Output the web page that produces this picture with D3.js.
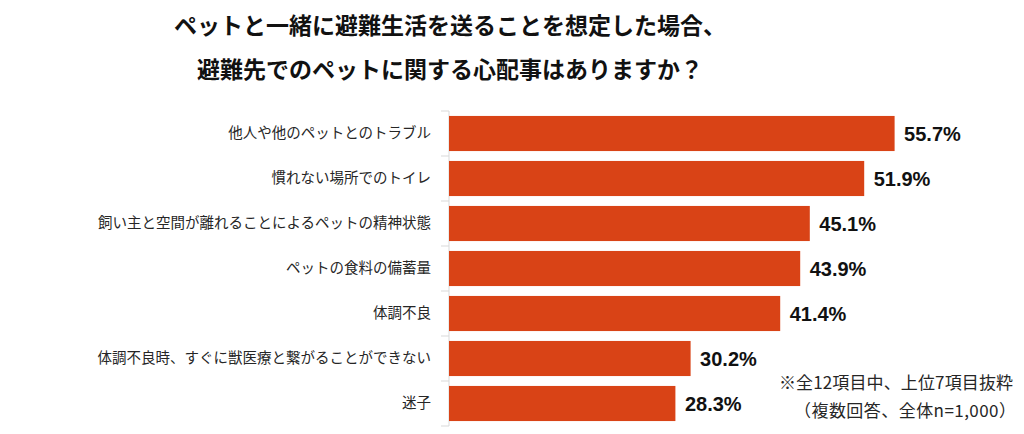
<!DOCTYPE html>
<html>
<head>
<meta charset="utf-8">
<script src="https://cdn.jsdelivr.net/npm/d3@7"></script>
<style>
  html, body { margin: 0; padding: 0; background: #fff; }
  svg { display: block; }
</style>
</head>
<body>
<svg id="chart" width="1024" height="434"></svg>
<script>
const titleLines = ["ペットと一緒に避難生活を送ることを想定した場合、", "避難先でのペットに関する心配事はありますか？"];
const categories = [
  "他人や他のペットとのトラブル",
  "慣れない場所でのトイレ",
  "飼い主と空間が離れることによるペットの精神状態",
  "ペットの食料の備蓄量",
  "体調不良",
  "体調不良時、すぐに獣医療と繋がることができない",
  "迷子"
];
const values = [55.7, 51.9, 45.1, 43.9, 41.4, 30.2, 28.3];
const noteLines = ["※全12項目中、上位7項目抜粋", "（複数回答、全体n=1,000）"];

const svg = d3.select("#chart");
const jp = "'Noto Sans CJK JP', 'Noto Sans', sans-serif";
const barColor = "#D94316";

const x = d3.scaleLinear().domain([0, 70]).range([449, 1009]);
const y = d3.scaleBand().domain(categories).range([111, 426]).paddingInner(0.22).paddingOuter(0.11);

// Title
svg.append("g").selectAll("text").data(titleLines).join("text")
  .attr("x", 450)
  .attr("y", (d, i) => i === 0 ? 24 : 67.5)
  .attr("text-anchor", "middle")
  .attr("dominant-baseline", "central")
  .style("font-family", jp)
  .style("font-weight", 700)
  .style("font-size", "23px")
  .attr("fill", "#111")
  .text(d => d);

// Axis line and boundary ticks
const step = y.step();
const bounds = categories.map(c => y(c) - y.paddingInner() * step / 2);
const axisG = svg.append("g");
axisG.append("line")
  .attr("x1", x(0)).attr("x2", x(0))
  .attr("y1", y.range()[0]).attr("y2", y.range()[1])
  .attr("stroke", "#d9d9d9").attr("stroke-width", 1);
axisG.selectAll("line.tick").data([y.range()[0], ...bounds.slice(1), y.range()[1]]).join("line")
  .attr("class", "tick")
  .attr("x1", x(0) - 8).attr("x2", x(0))
  .attr("y1", d => d).attr("y2", d => d)
  .attr("stroke", "#d9d9d9").attr("stroke-width", 1);

// Bars
svg.append("g").selectAll("rect").data(values).join("rect")
  .attr("x", x(0))
  .attr("y", (d, i) => y(categories[i]))
  .attr("width", d => x(d) - x(0))
  .attr("height", y.bandwidth())
  .attr("fill", barColor);

// Category labels via axis
const yAxis = svg.append("g")
  .attr("transform", `translate(${x(0)},0)`)
  .call(d3.axisLeft(y).tickSize(0).tickPadding(18));
yAxis.select(".domain").remove();
yAxis.selectAll("text")
  .style("font-family", jp)
  .style("font-size", "14.5px")
  .attr("fill", "#262626");

// Value labels
svg.append("g").selectAll("text").data(values).join("text")
  .attr("x", d => x(d) + 9.5)
  .attr("y", (d, i) => y(categories[i]) + y.bandwidth() / 2)
  .attr("dominant-baseline", "central")
  .style("font-family", "'Liberation Sans', Arial, sans-serif")
  .style("font-weight", 700)
  .style("font-size", "20px")
  .attr("fill", "#111")
  .text(d => d.toFixed(1) + "%");

// Note
svg.append("g").selectAll("text").data(noteLines).join("text")
  .attr("x", (d, i) => i === 0 ? 779 : 794)
  .attr("y", (d, i) => i === 0 ? 381 : 409.5)
  .attr("dominant-baseline", "central")
  .attr("textLength", (d, i) => i === 0 ? 234 : 222)
  .attr("lengthAdjust", "spacing")
  .style("font-family", jp)
  .style("font-size", "17px")
  .attr("fill", "#262626")
  .text(d => d);
</script>
</body>
</html>
